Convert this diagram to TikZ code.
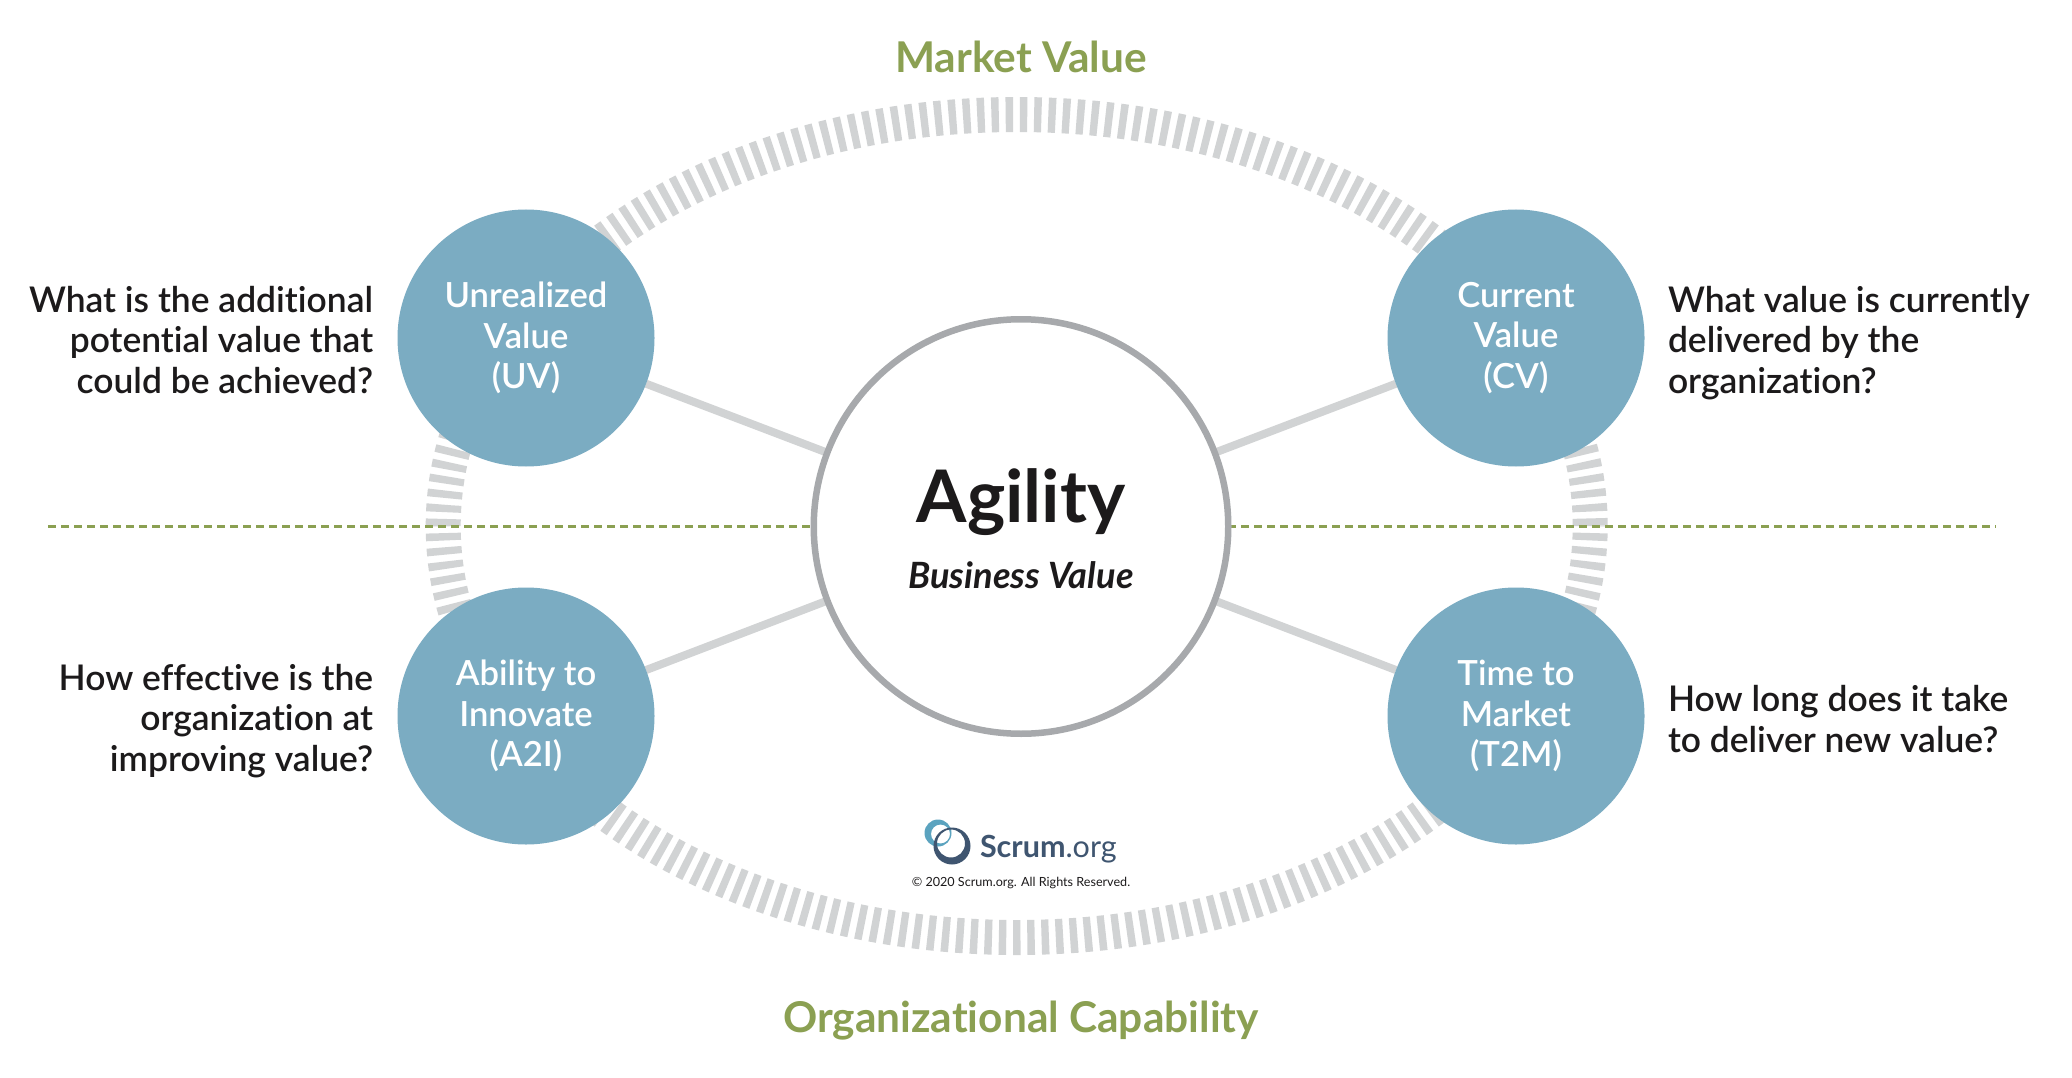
\documentclass[tikz,border=0pt]{standalone}
\usepackage{fontspec}
\setmainfont{Lato}[Ligatures=NoCommon]
\newfontfamily\med{Lato Semibold}[Ligatures=NoCommon]
\usetikzlibrary{backgrounds}
\definecolor{teal1}{HTML}{7BACC2}
\definecolor{ringg}{HTML}{A7A9AC}
\definecolor{tickg}{HTML}{D1D3D4}
\definecolor{leaf}{HTML}{8BA052}
\definecolor{ink}{HTML}{1C1A1B}
\definecolor{slate}{HTML}{3F5570}
\definecolor{logoteal}{HTML}{5BA3BF}
\tikzset{
  every node/.style={inner sep=0pt,outer sep=0pt},
  metric/.style={circle,fill=teal1,minimum size=257pt,text=white,align=center,
    font=\med\fontsize{34.6}{40.2}\selectfont},
  core/.style={circle,draw=ringg,fill=white,line width=6.5pt,minimum size=414.5pt},
  spoke/.style={draw=tickg,line width=8pt},
  divider/.style={draw=leaf,line width=3pt,dash pattern=on 7.5pt off 5.5pt},
  question/.style={text=ink,font=\med\fontsize{35.4}{40.6}\selectfont},
  axis/.style={text=leaf,font=\bfseries\fontsize{42.4}{46}\selectfont},
}
\begin{document}
\begin{tikzpicture}[x=1pt,y=-1pt]
\useasboundingbox (0,0) rectangle (2072,1078);
\node[core] (agility) at (1021,526.5) {};
\node[metric] (uv) at (526,338) {Unrealized\\Value\\(UV)};
\node[metric] (cv) at (1516,338) {Current\\Value\\(CV)};
\node[metric] (a2i) at (526,716) {Ability to\\Innovate\\(A2I)};
\node[metric] (t2m) at (1516,716) {Time to\\Market\\(T2M)};
\node[text=ink,font=\bfseries\fontsize{72.5}{80}\selectfont] (ag) at (1021,502) {Agility};
\node[text=ink,font=\bfseries\itshape\fontsize{36.2}{40}\selectfont] (bv) at (1021,575) {Business Value};
\node[axis] (mv) at (1021,57) {Market Value};
\node[axis] (oc) at (1021,1021) {Organizational Capability};
\node[question,anchor=east,align=right] (q1) at (373,340) {What is the additional\\potential value that\\could be achieved?};
\node[question,anchor=west,align=left] (q2) at (1668,343) {What value is currently\\delivered by the\\organization?};
\node[question,anchor=east,align=right] (q3) at (373,721) {How effective is the\\organization at\\improving value?};
\node[question,anchor=west,align=left] (q4) at (1668,719) {How long does it take\\to deliver new value?};
\coordinate (dl) at (48,526.5);
\coordinate (dr) at (1996,526.5);
% logo
\fill[logoteal,even odd rule] (938,833) circle [radius=13.5] (940.5,834) circle [radius=9.5];
\fill[slate,even odd rule] (952,846) circle [radius=18.5] (951,843.5) circle [radius=14];
\node[anchor=base west,text=slate,font=\fontsize{30.5}{34}\selectfont] (sc) at (980,857) {\textbf{Scrum}.org};
\node[text=ink,font=\fontsize{12.6}{14}\selectfont] (cr) at (1021,883.5) {© 2020 Scrum.org. All Rights Reserved.};
\begin{scope}[on background layer]
  \fill[white] (0,0) rectangle (2072,1078);
  \draw[tickg,line width=35pt,dash pattern=on 7.4pt off 6.826pt,dash phase=7.23pt] (1016.7,526) ellipse [x radius=573.5,y radius=411.5];
  \path[spoke] (uv) -- (agility);
  \path[spoke] (cv) -- (agility);
  \path[spoke] (a2i) -- (agility);
  \path[spoke] (t2m) -- (agility);
  \path[divider] (dl) -- (agility);
  \path[divider] (agility) -- (dr);
\end{scope}
\end{tikzpicture}
\end{document}
